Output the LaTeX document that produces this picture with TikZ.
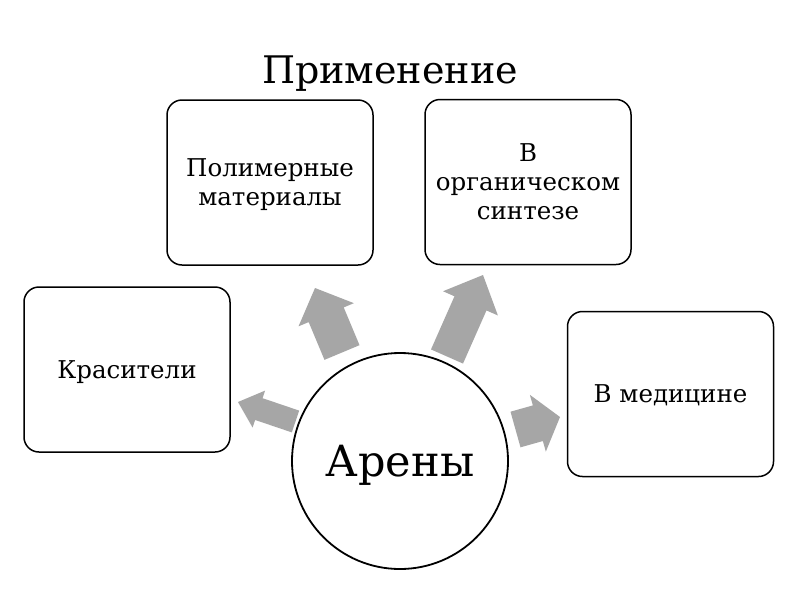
\documentclass[tikz,border=0pt]{standalone}
\usepackage{fontspec}
\setmainfont{DejaVu Serif}
\usetikzlibrary{calc}
\definecolor{arrowgray}{RGB}{166,166,166}
\newcommand\blockarrow[5]{% tail, tip, half body width, half head width, head length
  \coordinate (bn) at ($(#2)!#5!(#1)$);
  \fill[arrowfill] ($(#1)!#3!90:(#2)$) -- ($(bn)!#3!90:(#2)$) -- ($(bn)!#4!90:(#2)$) -- (#2)
    -- ($(bn)!#4!-90:(#2)$) -- ($(bn)!#3!-90:(#2)$) -- ($(#1)!#3!-90:(#2)$) -- cycle;}
\begin{document}
\begin{tikzpicture}[x=1pt,y=-1pt,
  box/.style={draw=black, line width=1.5pt, rounded corners=15pt, fill=white,
    align=center, font=\fontsize{24.5}{29}\selectfont, inner sep=0pt,
    minimum width=206pt, minimum height=165pt, text depth=0pt},
  hub/.style={circle, draw=black, line width=1.8pt, fill=white, minimum size=216pt,
    inner sep=0pt, font=\fontsize{43}{50}\selectfont, text depth=0pt},
  titlestyle/.style={font=\fontsize{38}{45}\selectfont, anchor=base, inner sep=0pt},
  arrowfill/.style={fill=arrowgray}]
\useasboundingbox (0,0) rectangle (800,600);
\fill[white] (0,0) rectangle (800,600);

\node[titlestyle] (title) at (390,83) {Применение};

\node[box] (dyes) at (127,369.5) {Красители};
\node[box] (poly) at (270,182.5) {Полимерные\\материалы};
\node[box] (org) at (528,182) {В\\органическом\\синтезе};
\node[box] (med) at (670.5,394) {В медицине};

\node[hub] (arenes) at (400,461) {Арены};

\coordinate (tA) at (295.5,421.5); \coordinate (pA) at (238,402);
\coordinate (tB) at (342,352.5);   \coordinate (pB) at (315,288);
\coordinate (tC) at (447,356.5);   \coordinate (pC) at (483,275);
\coordinate (tD) at (515.5,429.5); \coordinate (pD) at (560,417);

\blockarrow{tA}{pA}{11.5pt}{19.5pt}{22pt}
\blockarrow{tB}{pB}{19pt}{30pt}{29pt}
\blockarrow{tC}{pC}{17.5pt}{30pt}{31pt}
\blockarrow{tD}{pD}{18.5pt}{29.5pt}{23pt}
\end{tikzpicture}
\end{document}
